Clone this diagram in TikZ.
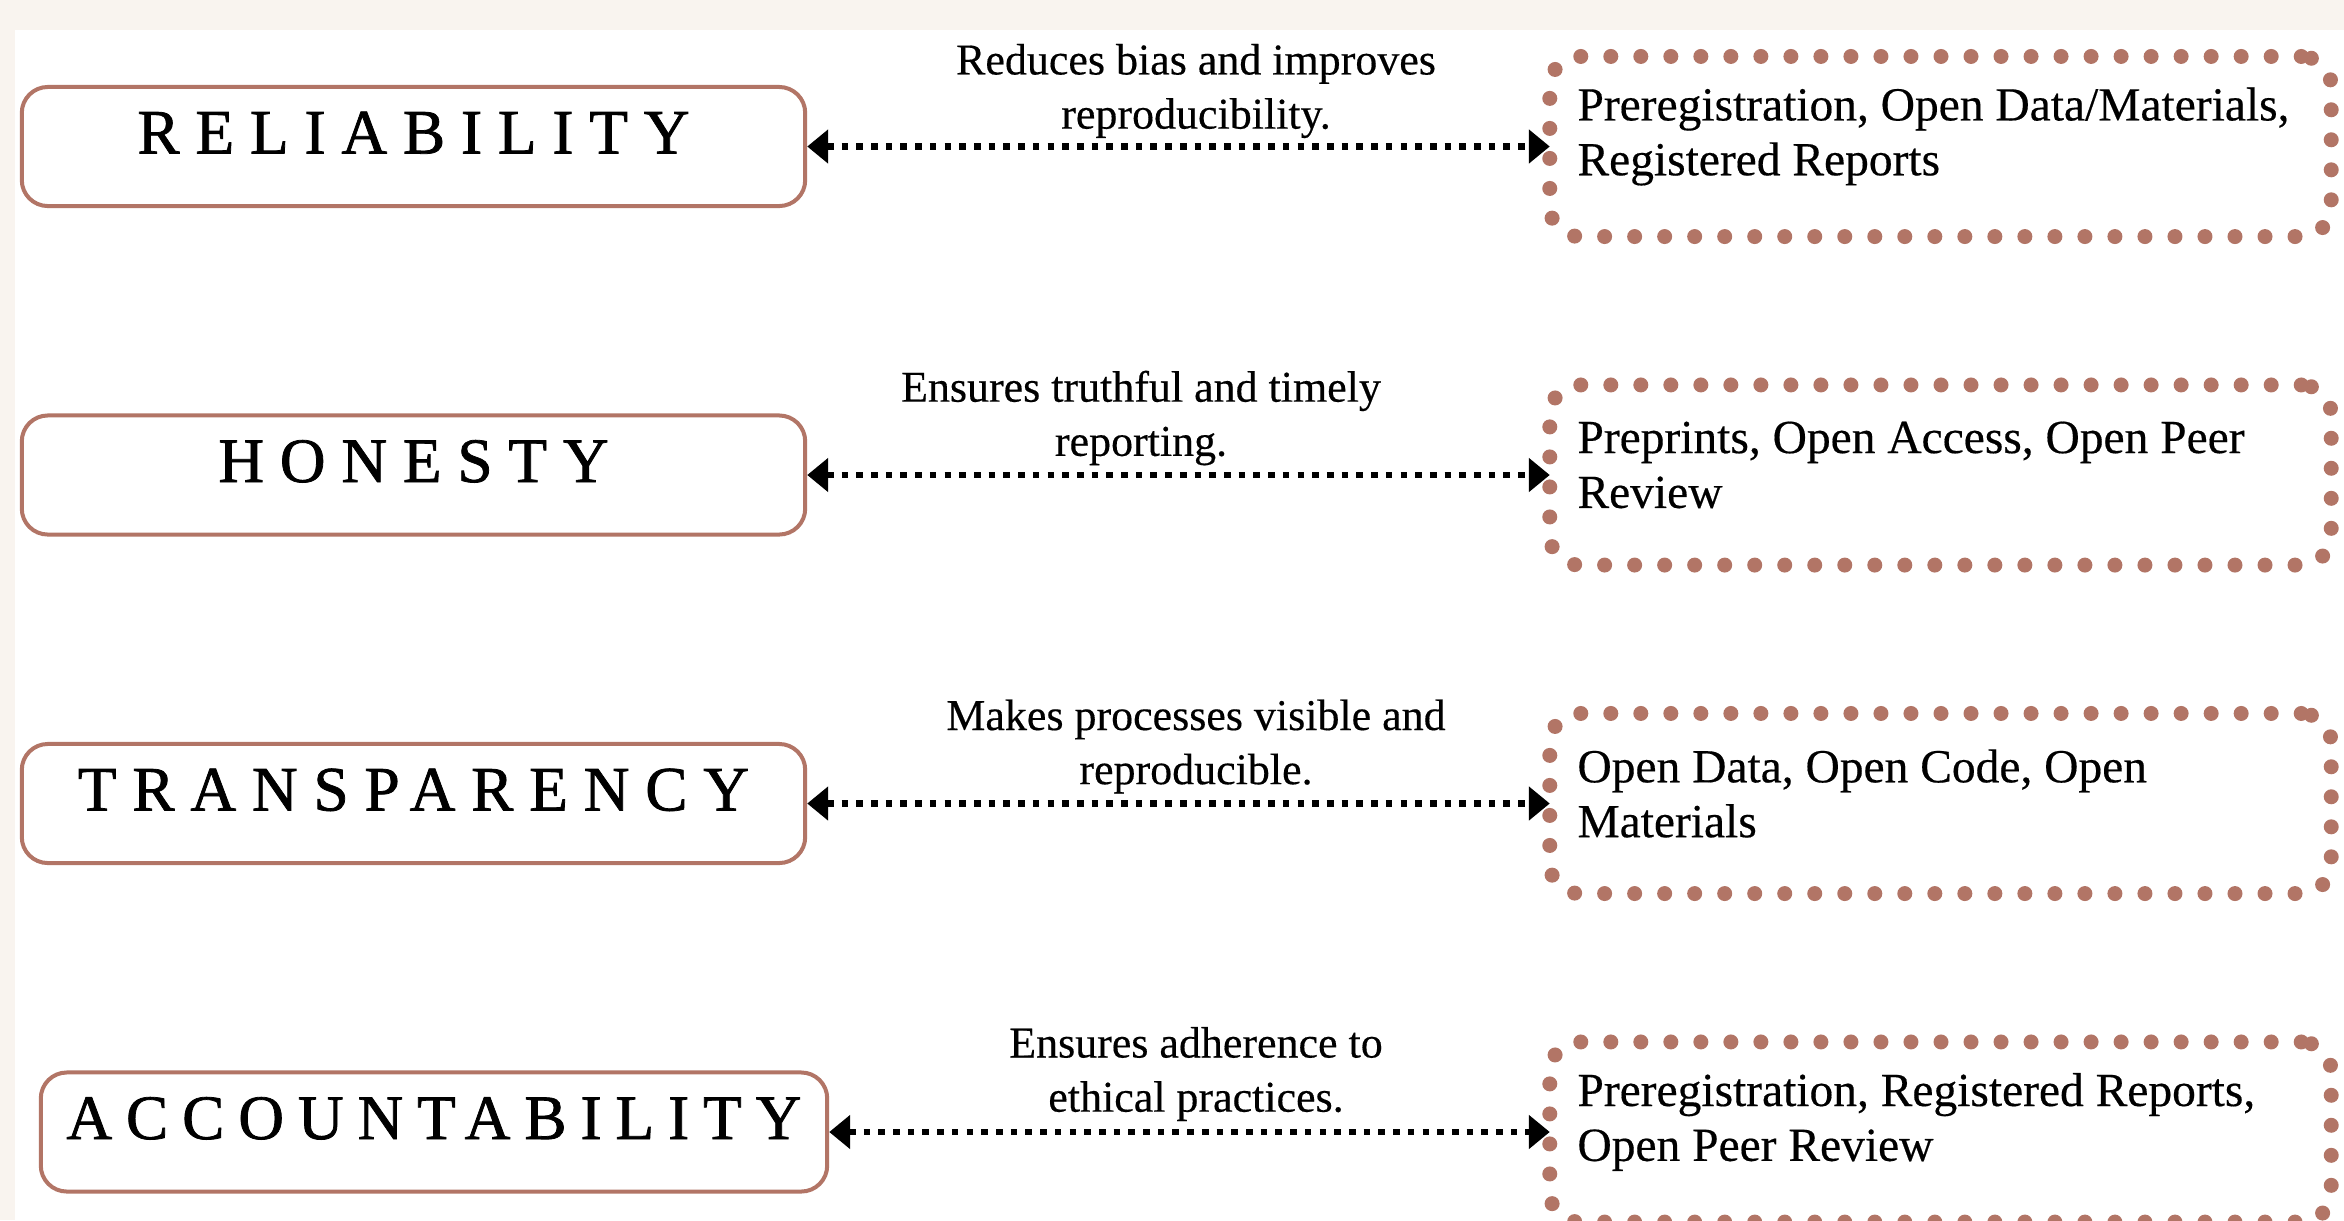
\documentclass[tikz,border=0pt]{standalone}
\usepackage{fontspec}
\setmainfont{Liberation Serif}[FakeBold=0.35]
\newfontfamily\headfont{Liberation Serif}[LetterSpace=25,FakeBold=1.2]
\usetikzlibrary{arrows.meta,calc}
\definecolor{clay}{RGB}{178,117,102}
\definecolor{paper}{RGB}{249,244,239}

\begin{document}
\begin{tikzpicture}[x=0.01cm,y=-0.01cm,
  headbox/.style={draw=clay, line width=0.04cm, rounded corners=0.26cm,
    minimum width=7.83cm, minimum height=1.19cm, inner sep=0pt,
    text height=0.42cm, text depth=0.28cm,
    font=\headfont\fontsize{18}{20}\selectfont},
  dotbox/.style={draw=clay, line width=0.15cm, dash pattern=on 0pt off 0.3cm,
    line cap=round, rounded corners=0.3cm, outer sep=0pt,
    minimum width=7.81cm, minimum height=1.80cm, inner sep=0pt},
  infotext/.style={align=left, anchor=west, inner sep=0pt,
    font=\fontsize{13.5}{15.6}\selectfont},
  linktext/.style={align=center, inner sep=0pt,
    font=\fontsize{12.5}{15.4}\selectfont},
  link/.style={{Triangle[length=0.21cm,width=0.33cm]}-{Triangle[length=0.21cm,width=0.33cm]},
    line width=0.066cm, dash pattern=on 0.066cm off 0.081cm},
]
\useasboundingbox (0,0) rectangle (2344,1220);
\clip (0,0) rectangle (2344,1220);
% page background: beige margin strips, white sheet
\fill[paper] (0,0) rectangle (2344,1220);
\fill[white] (15,30) rectangle (2344,1220);

% principles
\node[headbox] (rel) at (413.5,146.5) {RELIABILITY};
\node[headbox] (hon) at (413.5,475) {HONESTY};
\node[headbox] (tra) at (413.5,803.5) {TRANSPARENCY};
\node[headbox, minimum width=7.86cm,
  font=\headfont\addfontfeature{LetterSpace=22}\fontsize{18}{20}\selectfont]
  (acc) at (434,1132) {ACCOUNTABILITY};

% practices
\node[dotbox] (prA) at (1940.5,146.5) {};
\node[dotbox] (prB) at (1940.5,475) {};
\node[dotbox] (prC) at (1940.5,803.5) {};
\node[dotbox] (prD) at (1940.5,1132) {};

\node[infotext] (txA) at ($(prA.west)+(27,-10)$) {Preregistration, Open Data/Materials,\\Registered Reports};
\node[infotext] (txB) at ($(prB.west)+(27,-10)$) {Preprints, Open Access, Open Peer\\Review};
\node[infotext] (txC) at ($(prC.west)+(27,-10)$) {Open Data, Open Code, Open\\Materials};
\node[infotext] (txD) at ($(prD.west)+(27,-10)$) {Preregistration, Registered Reports,\\Open Peer Review};

% links
\draw[link] (rel.east) -- (prA.west);
\draw[link] (hon.east) -- (prB.west);
\draw[link] (tra.east) -- (prC.west);
\draw[link] (acc.east) -- (prD.west);

\node[linktext] (lkA) at (1196,91) {Reduces bias and improves\\reproducibility.};
\node[linktext] (lkB) at (1141,418) {Ensures truthful and timely\\reporting.};
\node[linktext] (lkC) at (1196,746.5) {Makes processes visible and\\reproducible.};
\node[linktext] (lkD) at (1196,1074) {Ensures adherence to\\ethical practices.};
\end{tikzpicture}
\end{document}
